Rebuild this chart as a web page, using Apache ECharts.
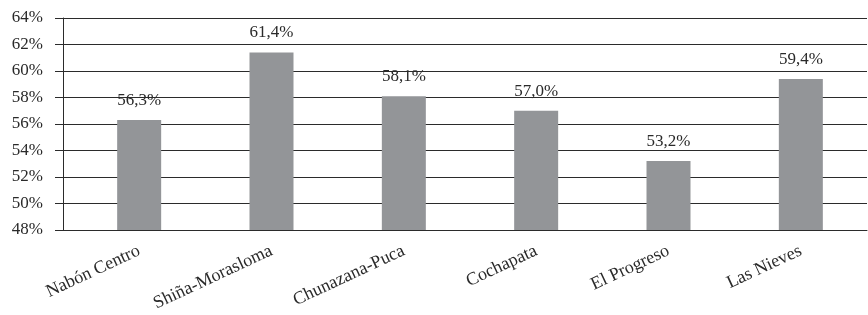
<!DOCTYPE html>
<html>
<head>
<meta charset="utf-8">
<script src="https://cdn.jsdelivr.net/npm/echarts@6/dist/echarts.min.js"></script>
<style>
  html, body { margin: 0; padding: 0; background: #fff; }
  #main_chart { width: 868px; height: 315px; }
</style>
</head>
<body>
<div id="main_chart"></div>
<script>
// 数据
var categories = ["Nabón Centro", "Shiña-Morasloma", "Chunazana-Puca", "Cochapata", "El Progreso", "Las Nieves"];
var values = [56.3, 61.4, 58.1, 57.0, 53.2, 59.4];
var yMin = 48;
var yMax = 64;
var yStep = 2;

var fontName = "Liberation Serif";
var textColor = "#2a2a2a";
var lineColor = "#2b2b2b";

var myChart = echarts.init(document.getElementById("main_chart"));
let option = {
  animation: false,
  grid: {
    left: 73,
    right: 1,
    top: 18,
    bottom: 85
  },
  xAxis: {
    type: "category",
    data: categories,
    axisTick: { show: false },
    axisLine: { lineStyle: { color: lineColor, width: 1 } },
    axisLabel: {
      rotate: 25,
      margin: 20,
      interval: 0,
      fontFamily: fontName,
      fontSize: 18,
      color: textColor
    }
  },
  yAxis: [
    {
      type: "value",
      min: yMin,
      max: yMax,
      interval: yStep,
      axisLine: { show: false },
      // 刻度线往左伸出，和网格线连在一起
      axisTick: { show: true, length: 18, lineStyle: { color: lineColor } },
      splitLine: { lineStyle: { color: lineColor, width: 1 } },
      axisLabel: {
        margin: 30,
        fontFamily: fontName,
        fontSize: 17,
        color: textColor,
        formatter: function (v) {
          return v + "%";
        }
      }
    },
    {
      // 只画竖轴线
      type: "value",
      position: "left",
      offset: 10,
      min: yMin,
      max: yMax,
      interval: yStep,
      axisLine: { show: true, lineStyle: { color: lineColor, width: 1 } },
      axisTick: { show: false },
      axisLabel: { show: false },
      splitLine: { show: false }
    }
  ],
  series: [
    {
      type: "bar",
      yAxisIndex: 0,
      data: values,
      barWidth: 44,
      itemStyle: { color: "#939598" },
      label: {
        show: true,
        position: "top",
        distance: 11,
        fontFamily: fontName,
        fontSize: 17,
        color: textColor,
        formatter: function (p) {
          return p.value.toFixed(1).replace(".", ",") + "%";
        }
      }
    }
  ]
};
myChart.setOption(option);
</script>
</body>
</html>
